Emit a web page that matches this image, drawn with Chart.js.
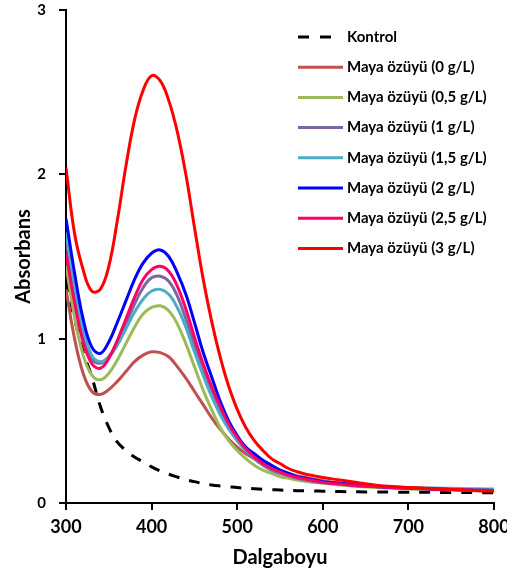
<!DOCTYPE html>
<html>
<head>
<meta charset="utf-8">
<script src="https://cdn.jsdelivr.net/npm/chart.js@4.4.1/dist/chart.umd.min.js"></script>
<style>
  html, body { margin: 0; padding: 0; background: #fff; }
  #wrap { width: 507px; height: 581px; }
</style>
</head>
<body>
<div id="wrap"><canvas id="chart" width="507" height="581"></canvas></div>
<script>
// wavelength (nm)
const wavelengths = [300, 310, 320, 330, 340, 350, 360, 370, 380, 390, 400, 410, 420, 430, 440, 450, 460, 470, 480, 490,
  500, 510, 520, 530, 540, 550, 560, 570, 580, 590, 600, 620, 640, 660, 680, 700, 720, 740, 760, 780, 800];

const kontrol = [1.35, 1.12, 0.92, 0.77, 0.59, 0.46, 0.37, 0.32, 0.28, 0.25, 0.22, 0.195, 0.175, 0.158, 0.142, 0.13, 0.118, 0.11, 0.104, 0.099,
  0.094, 0.09, 0.087, 0.084, 0.081, 0.079, 0.077, 0.075, 0.074, 0.073, 0.072, 0.070, 0.068, 0.067, 0.066, 0.065, 0.065, 0.064, 0.064, 0.063, 0.063];
const maya0 = [1.30, 1.00, 0.79, 0.68, 0.66, 0.69, 0.74, 0.80, 0.86, 0.90, 0.92, 0.915, 0.89, 0.83, 0.76, 0.68, 0.60, 0.52, 0.45, 0.39,
  0.34, 0.30, 0.27, 0.24, 0.22, 0.20, 0.18, 0.165, 0.155, 0.145, 0.135, 0.12, 0.11, 0.10, 0.095, 0.09, 0.086, 0.083, 0.08, 0.078, 0.076];
const maya05 = [1.45, 1.13, 0.90, 0.78, 0.75, 0.79, 0.87, 0.97, 1.07, 1.15, 1.19, 1.20, 1.17, 1.09, 0.97, 0.83, 0.69, 0.57, 0.46, 0.38,
  0.32, 0.27, 0.23, 0.20, 0.18, 0.16, 0.15, 0.14, 0.13, 0.125, 0.12, 0.11, 0.10, 0.095, 0.09, 0.085, 0.082, 0.08, 0.078, 0.076, 0.075];
const maya1 = [1.60, 1.28, 1.02, 0.88, 0.85, 0.89, 0.98, 1.09, 1.21, 1.31, 1.37, 1.38, 1.35, 1.26, 1.12, 0.96, 0.80, 0.67, 0.56, 0.46,
  0.38, 0.32, 0.27, 0.23, 0.20, 0.18, 0.165, 0.15, 0.14, 0.13, 0.125, 0.115, 0.105, 0.10, 0.095, 0.09, 0.086, 0.083, 0.08, 0.078, 0.077];
const maya15 = [1.65, 1.32, 1.06, 0.90, 0.86, 0.89, 0.96, 1.06, 1.16, 1.24, 1.29, 1.30, 1.27, 1.19, 1.07, 0.92, 0.78, 0.65, 0.54, 0.45,
  0.38, 0.32, 0.28, 0.24, 0.21, 0.19, 0.17, 0.155, 0.145, 0.135, 0.13, 0.12, 0.11, 0.105, 0.10, 0.095, 0.092, 0.09, 0.088, 0.086, 0.085];
const maya2 = [1.73, 1.40, 1.12, 0.95, 0.91, 0.98, 1.10, 1.23, 1.36, 1.46, 1.52, 1.54, 1.50, 1.40, 1.27, 1.10, 0.92, 0.77, 0.62, 0.50,
  0.41, 0.34, 0.30, 0.26, 0.23, 0.20, 0.18, 0.16, 0.15, 0.14, 0.13, 0.12, 0.11, 0.10, 0.095, 0.09, 0.086, 0.083, 0.08, 0.078, 0.076];
const maya25 = [1.52, 1.22, 0.98, 0.85, 0.82, 0.88, 0.99, 1.12, 1.25, 1.36, 1.42, 1.44, 1.41, 1.32, 1.18, 1.01, 0.85, 0.71, 0.59, 0.48,
  0.40, 0.33, 0.28, 0.24, 0.21, 0.19, 0.17, 0.155, 0.145, 0.135, 0.125, 0.115, 0.105, 0.10, 0.095, 0.09, 0.086, 0.083, 0.08, 0.078, 0.076];
const maya3 = [2.04, 1.64, 1.42, 1.29, 1.30, 1.44, 1.72, 2.05, 2.33, 2.51, 2.60, 2.57, 2.45, 2.26, 2.00, 1.68, 1.37, 1.11, 0.89, 0.71,
  0.57, 0.46, 0.38, 0.32, 0.27, 0.24, 0.21, 0.19, 0.175, 0.165, 0.155, 0.14, 0.125, 0.11, 0.10, 0.095, 0.09, 0.085, 0.08, 0.075, 0.072];

const seriesNames = ['Kontrol', 'Maya özüyü (0 g/L)', 'Maya özüyü (0,5 g/L)', 'Maya özüyü (1 g/L)',
  'Maya özüyü (1,5 g/L)', 'Maya özüyü (2 g/L)', 'Maya özüyü (2,5 g/L)', 'Maya özüyü (3 g/L)'];
const seriesValues = [kontrol, maya0, maya05, maya1, maya15, maya2, maya25, maya3];
const seriesColors = ['#000000', '#C0504D', '#9BBB59', '#8064A2', '#4BACC6', '#0000FF', '#FF0066', '#FF0000'];

const yTicks = [0, 1, 2, 3];
const xTicks = [300, 400, 500, 600, 700, 800];

const FONT = 'Lato, "Open Sans", sans-serif';

const datasets = seriesNames.map((name, i) => ({
  label: name,
  data: wavelengths.map((w, j) => ({ x: w, y: seriesValues[i][j] })),
  borderColor: seriesColors[i],
  borderWidth: 3,
  borderDash: i === 0 ? [11, 10] : [],
  pointRadius: 0,
  tension: 0.4,
  fill: false,
  order: seriesNames.length - i  // red on top, kontrol at bottom
}));

// legend drawn by hand so rows sit inside the plot like the original
const sideLegend = {
  id: 'sideLegend',
  afterDraw(chart) {
    const ctx = chart.ctx;
    ctx.save();
    ctx.font = 'bold 15px ' + FONT;
    ctx.textBaseline = 'middle';
    ctx.fillStyle = '#000';
    chart.data.datasets.forEach((ds, i) => {
      const y = 37 + i * 30.2;
      const dashed = ds.borderDash.length > 0;
      ctx.beginPath();
      ctx.strokeStyle = ds.borderColor;
      ctx.lineWidth = 3;
      ctx.setLineDash(dashed ? [11, 11] : []);
      ctx.moveTo(298, y);
      ctx.lineTo(dashed ? 332 : 343, y);
      ctx.stroke();
      ctx.setLineDash([]);
      ctx.fillText(ds.label, 347, y);
    });
    ctx.restore();
  }
};

new Chart(document.getElementById('chart'), {
  type: 'line',
  data: { datasets },
  options: {
    responsive: false,
    animation: false,
    layout: { padding: { left: 0, top: 10, right: 13, bottom: 0 } },
    plugins: { legend: { display: false }, tooltip: { enabled: false } },
    scales: {
      x: {
        type: 'linear',
        min: 300,
        max: 800,
        afterBuildTicks: s => { s.ticks = xTicks.map(v => ({ value: v })); },
        afterFit: s => { s.height = 78; s.paddingLeft = 0; s.paddingRight = 0; },
        ticks: { color: '#000', font: { family: FONT, size: 18, weight: 'bold' }, padding: 6, maxRotation: 0 },
        grid: { drawOnChartArea: false, drawTicks: true, tickLength: 7, color: '#000', lineWidth: 2 },
        border: { color: '#000', width: 2 },
        title: { display: true, text: 'Dalgaboyu', color: '#000', font: { family: FONT, size: 20, weight: 'bold' }, padding: { bottom: 11 } }
      },
      y: {
        min: 0,
        max: 3,
        afterBuildTicks: s => { s.ticks = yTicks.map(v => ({ value: v })); },
        afterFit: s => { s.width = 66; s.paddingTop = 0; s.paddingBottom = 0; },
        ticks: { color: '#000', font: { family: FONT, size: 15, weight: 'bold' }, padding: 13 },
        grid: { drawOnChartArea: false, drawTicks: true, tickLength: 7, color: '#000', lineWidth: 2 },
        border: { color: '#000', width: 2 },
        title: { display: true, text: 'Absorbans', color: '#000', font: { family: FONT, size: 20, weight: 'bold' }, padding: { top: 12 } }
      }
    }
  },
  plugins: [sideLegend]
});
</script>
</body>
</html>
